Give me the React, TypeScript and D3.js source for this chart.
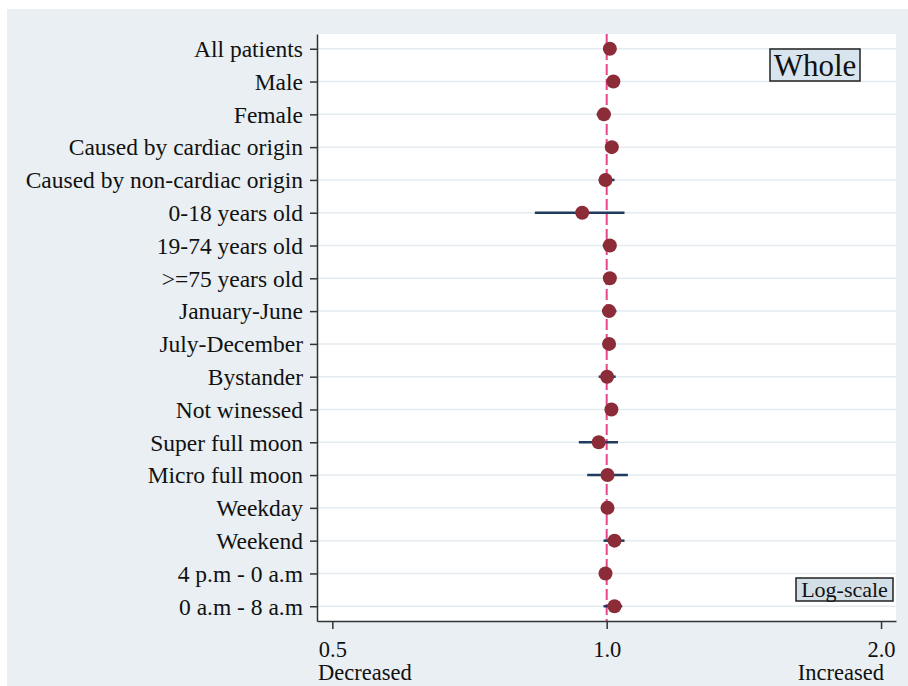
import React, { useEffect, useRef } from 'react'
import { select, axisBottom, axisLeft, scaleLog, scalePoint, format } from 'd3'

// subgroups, top to bottom
const categories = [
  'All patients',
  'Male',
  'Female',
  'Caused by cardiac origin',
  'Caused by non-cardiac origin',
  '0-18 years old',
  '19-74 years old',
  '>=75 years old',
  'January-June',
  'July-December',
  'Bystander',
  'Not winessed',
  'Super full moon',
  'Micro full moon',
  'Weekday',
  'Weekend',
  '4 p.m - 0 a.m',
  '0 a.m - 8 a.m',
]
// ratio estimates
const estimates = [1.008, 1.017, 0.993, 1.013, 0.997, 0.94, 1.008, 1.008, 1.006, 1.006, 1.001, 1.012, 0.98, 1.002, 1.002, 1.02, 0.997, 1.02]
// 95% CI bounds
const lower = [1.0, 1.005, 0.975, 1.003, 0.98, 0.834, 0.99, 0.998, 0.988, 0.99, 0.98, 1.0, 0.932, 0.952, 0.99, 0.992, 0.99, 0.992]
const upper = [1.016, 1.03, 1.01, 1.023, 1.02, 1.046, 1.022, 1.018, 1.025, 1.02, 1.023, 1.024, 1.029, 1.055, 1.012, 1.046, 1.004, 1.04]
const xTicks = [0.5, 1, 2]
const xDomain = [0.481, 2.077]

const W = 908
const H = 686
const FONT = '"Liberation Serif", "Times New Roman", serif'

function App() {
  const ref = useRef<SVGSVGElement>(null)

  const margin = { top: 34, right: 12, bottom: 65, left: 317 }
  const plotRight = W - margin.right
  const plotBottom = H - margin.bottom

  useEffect(() => {
    const svg = select(ref.current)
    svg.selectAll('*').remove()

    const xScale = scaleLog().domain(xDomain).range([margin.left, plotRight])
    const yScale = scalePoint<string>()
      .domain(categories)
      .range([margin.top, plotBottom])
      .padding(0.45)

    // backgrounds
    svg.append('rect').attr('x', 7).attr('y', 9).attr('width', W - 7).attr('height', H - 9).attr('fill', '#e9eff2')
    svg.append('rect')
      .attr('x', margin.left).attr('y', margin.top)
      .attr('width', plotRight - margin.left).attr('height', plotBottom - margin.top)
      .attr('fill', '#ffffff')

    // gridlines
    svg.append('g')
      .selectAll('line')
      .data(categories)
      .join('line')
      .attr('x1', margin.left)
      .attr('x2', plotRight)
      .attr('y1', d => yScale(d)!)
      .attr('y2', d => yScale(d)!)
      .attr('stroke', '#e3ebef')
      .attr('stroke-width', 1.5)

    // reference line at 1
    svg.append('line')
      .attr('x1', xScale(1)).attr('x2', xScale(1))
      .attr('y1', margin.top).attr('y2', plotBottom)
      .attr('stroke', '#e8458a')
      .attr('stroke-width', 2)
      .attr('stroke-dasharray', '11,4')

    // confidence intervals
    svg.append('g')
      .selectAll('line')
      .data(categories)
      .join('line')
      .attr('x1', (d, i) => xScale(lower[i]))
      .attr('x2', (d, i) => xScale(upper[i]))
      .attr('y1', d => yScale(d)!)
      .attr('y2', d => yScale(d)!)
      .attr('stroke', '#1f3b5e')
      .attr('stroke-width', 2.5)

    // point estimates
    svg.append('g')
      .selectAll('circle')
      .data(categories)
      .join('circle')
      .attr('cx', (d, i) => xScale(estimates[i]))
      .attr('cy', d => yScale(d)!)
      .attr('r', 7)
      .attr('fill', '#8c2c38')

    // y axis
    const yAxis = axisLeft(yScale).tickSize(7).tickPadding(7).tickSizeOuter(0)
    const gy = svg.append('g').attr('transform', `translate(${margin.left},0)`).call(yAxis)
    gy.select('.domain').attr('stroke', '#333').attr('stroke-width', 1.5)
    gy.selectAll('.tick line').attr('stroke', '#333').attr('stroke-width', 1.5)
    gy.selectAll('.tick text')
      .attr('font-family', FONT)
      .attr('font-size', 23.5)
      .attr('fill', '#111')
      .attr('dy', '0.33em')

    // x axis
    const xAxis = axisBottom(xScale)
      .tickValues(xTicks)
      .tickFormat(format('.1f'))
      .tickSize(8)
      .tickPadding(12)
      .tickSizeOuter(0)
    const gx = svg.append('g').attr('transform', `translate(0,${plotBottom})`).call(xAxis)
    gx.select('.domain').attr('stroke', '#333').attr('stroke-width', 1.5)
    gx.selectAll('.tick line').attr('stroke', '#333').attr('stroke-width', 1.5)
    gx.selectAll('.tick text')
      .attr('font-family', FONT)
      .attr('font-size', 22.5)
      .attr('fill', '#111')

    svg.append('text')
      .attr('x', margin.left + 1).attr('y', 680)
      .attr('font-family', FONT).attr('font-size', 22.5).attr('fill', '#111')
      .text('Decreased')
    svg.append('text')
      .attr('x', 884).attr('y', 680)
      .attr('text-anchor', 'end')
      .attr('font-family', FONT).attr('font-size', 22.5).attr('fill', '#111')
      .text('Increased')

    // boxed labels
    const boxes = [
      { label: 'Whole', x: 770, y: 49, w: 90, h: 32, size: 31, fill: '#d8e5ee' },
      { label: 'Log-scale', x: 796, y: 578, w: 97, h: 23, size: 22, fill: '#d3dfe7' },
    ]
    boxes.forEach(b => {
      svg.append('rect')
        .attr('x', b.x).attr('y', b.y).attr('width', b.w).attr('height', b.h)
        .attr('fill', b.fill).attr('stroke', '#222').attr('stroke-width', 1.5)
      svg.append('text')
        .attr('x', b.x + b.w / 2).attr('y', b.y + b.h / 2)
        .attr('dy', '0.34em')
        .attr('text-anchor', 'middle')
        .attr('font-family', FONT).attr('font-size', b.size).attr('fill', '#111')
        .text(b.label)
    })
  }, [])

  return (
    <svg ref={ref} width={W} height={H} style={{ position: 'absolute', left: 0, top: 0, background: '#fff' }} />
  )
}

export default App
